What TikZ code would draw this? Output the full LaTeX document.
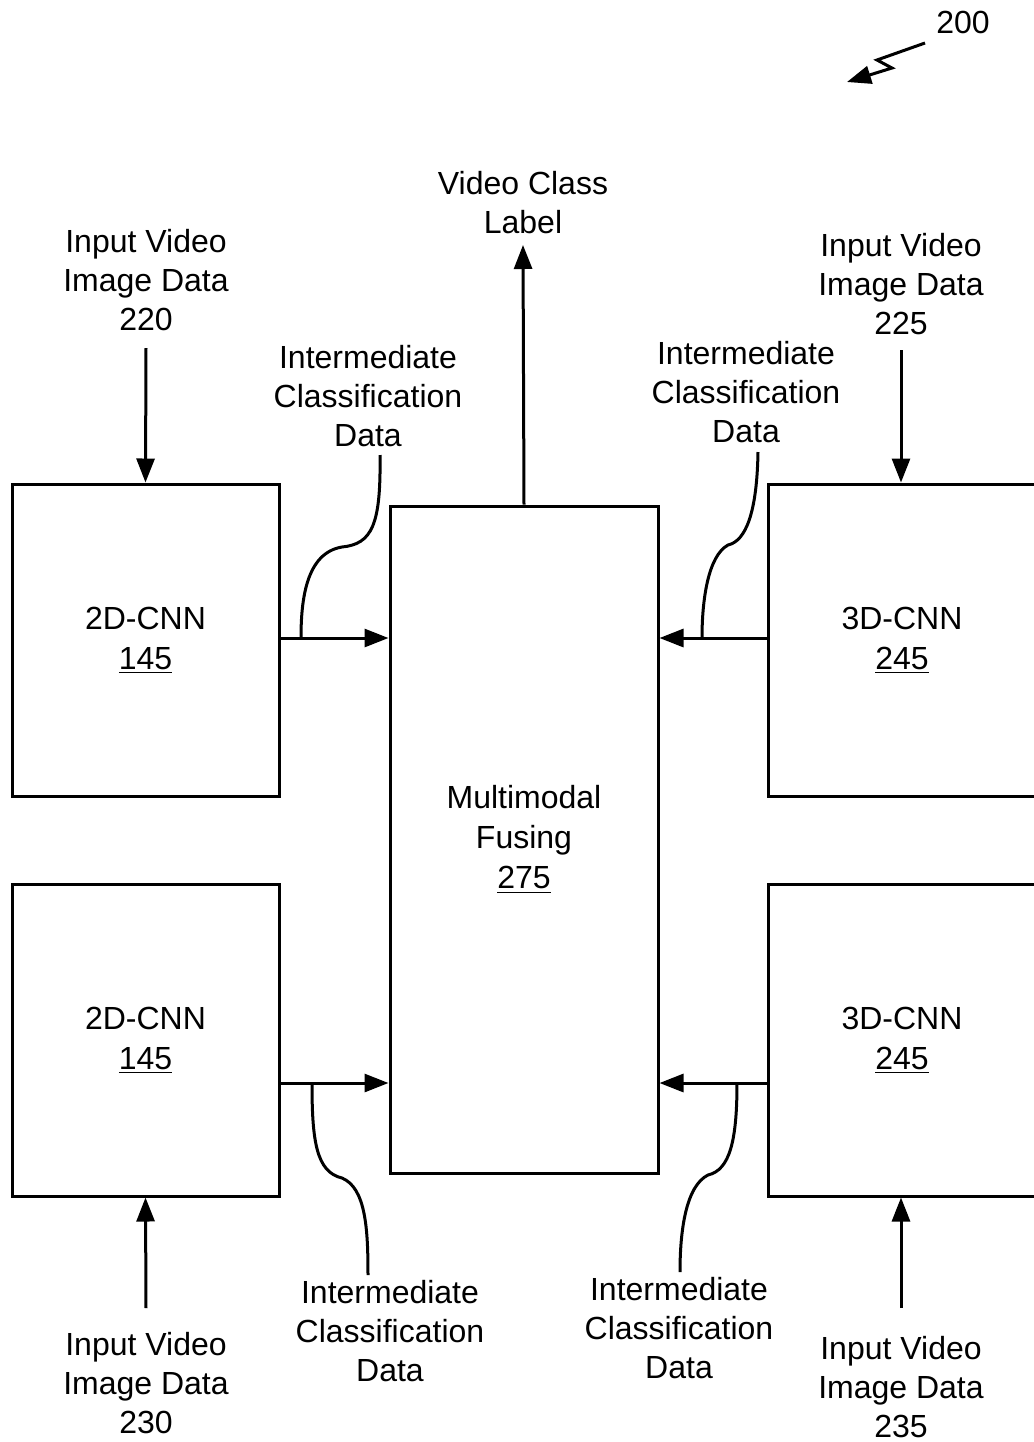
\documentclass[tikz,border=0pt]{standalone}
\usepackage{fontspec}
\setmainfont{Liberation Sans}
\usepackage{tikz}
\usetikzlibrary{arrows.meta,calc,positioning}

\begin{document}
\begin{tikzpicture}[x=0.5pt,y=-0.5pt,>={Triangle[length=12pt,width=9pt]},line width=1.5pt,
  box/.style={draw,line width=1.5pt,minimum width=133.5pt,minimum height=156pt,align=center,inner sep=0pt},
  lbl/.style={align=center,inner sep=1pt}]
\useasboundingbox (0,0) rectangle (1034,1442);
\fontsize{16}{19.5}\selectfont
% blocks
\node[box] (cnnA) at (145.5,640) {\raisebox{-1.5pt}{2D-CNN}\\[0.5pt]\raisebox{-1.5pt}{\underline{145}}};
\node[box] (cnnB) at (145.5,1040) {\raisebox{-1.5pt}{2D-CNN}\\[0.5pt]\raisebox{-1.5pt}{\underline{145}}};
\node[box,minimum width=134pt] (cnnC) at (902,640) {\raisebox{-1.5pt}{3D-CNN}\\[0.5pt]\raisebox{-1.5pt}{\underline{245}}};
\node[box,minimum width=134pt] (cnnD) at (902,1040) {\raisebox{-1.5pt}{3D-CNN}\\[0.5pt]\raisebox{-1.5pt}{\underline{245}}};
\node[box,minimum width=134pt,minimum height=333.5pt] (fus) at (524,839.5) {Multimodal\\[0.5pt]Fusing\\[0.5pt]\underline{275}};
% labels
\node[lbl] (in220) at (146,280) {Input Video\\Image Data\\220};
\node[lbl] (in225) at (901,284) {Input Video\\Image Data\\225};
\node[lbl] (in230) at (146,1383) {Input Video\\Image Data\\230};
\node[lbl] (in235) at (901,1387) {Input Video\\Image Data\\235};
\node[lbl] (vcl) at (523,203) {Video Class\\Label};
\node[lbl] (icA) at (368,396) {Intermediate\\Classification\\Data};
\node[lbl] (icC) at (746,392) {Intermediate\\Classification\\Data};
\node[lbl] (icB) at (390,1331) {Intermediate\\Classification\\Data};
\node[lbl] (icD) at (679,1328) {Intermediate\\Classification\\Data};
\node[lbl] (ref) at (963,22) {200};
% inputs
\draw[->] (146,348) -- (cnnA.north);
\draw[->] (901,350) -- (cnnC.north -| in225);
\draw[->] (146,1308) -- (cnnB.south);
\draw[->] (901,1308) -- (cnnD.south -| in235);
\draw[->] (fus.north) -- (523,245);
% intermediate outputs
\coordinate (pA) at (301,638);
\coordinate (pC) at (702,638);
\coordinate (pB) at (312,1083);
\coordinate (pD) at (737,1083);
\draw[->] (cnnA.east |- pA) -- (fus.west |- pA);
\draw[->] (cnnC.west |- pC) -- (fus.east |- pC);
\draw[->] (cnnB.east |- pB) -- (fus.west |- pB);
\draw[->] (cnnD.west |- pD) -- (fus.east |- pD);
% leaders
\draw (380,455) .. controls (381,525) and (372,544) .. (342,547) .. controls (306,553) and (301,600) .. (pA);
\draw (758,452) .. controls (757,512) and (746,541) .. (728,545) .. controls (708,556) and (702,600) .. (pC);
\draw (pB) .. controls (312,1140) and (316,1172) .. (342,1178) .. controls (366,1188) and (368,1230) .. (368,1275);
\draw (pD) .. controls (737,1140) and (730,1170) .. (708,1175) .. controls (686,1186) and (680,1230) .. (680,1272);
% figure number
\draw[->] (925,43) -- (877,60) -- (892,68) -- (847,82);
\end{tikzpicture}
\end{document}
